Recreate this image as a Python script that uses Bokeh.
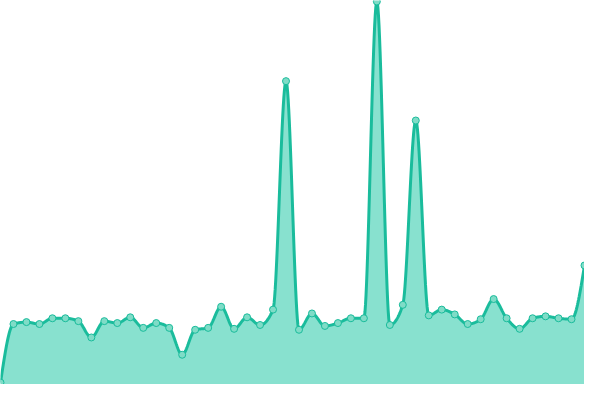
import numpy as np
from bokeh.plotting import figure
from bokeh.embed import file_html
from bokeh.resources import INLINE
from bokeh.models import Range1d

# data
idx = list(range(46))
values = [2, 63, 65, 63, 69, 69, 66, 49, 66, 64,
          70, 59, 64, 59, 31, 57, 59, 81, 58, 70,
          62, 78, 316, 57, 74, 61, 64, 69, 69, 399,
          62, 83, 275, 72, 78, 73, 63, 68, 89, 69,
          58, 69, 71, 69, 68, 124]

LINE = "#1abc9c"
FILL = "#88e1cf"


def monotone_x(xs, ys, n=24):
    xs = np.asarray(xs, float)
    ys = np.asarray(ys, float)
    h = np.diff(xs)
    s = np.diff(ys) / h
    m = np.zeros(len(xs))
    for i in range(1, len(xs) - 1):
        s0, s1 = s[i - 1], s[i]
        p = (s0 * h[i] + s1 * h[i - 1]) / (h[i - 1] + h[i])
        m[i] = (np.sign(s0) + np.sign(s1)) * min(abs(s0), abs(s1), 0.5 * abs(p))
    m[0] = (3 * s[0] - m[1]) / 2
    m[-1] = (3 * s[-1] - m[-2]) / 2
    outx, outy = [], []
    for i in range(len(xs) - 1):
        t = np.linspace(0, 1, n, endpoint=False)
        hh = h[i]
        h00 = 2 * t**3 - 3 * t**2 + 1
        h10 = t**3 - 2 * t**2 + t
        h01 = -2 * t**3 + 3 * t**2
        h11 = t**3 - t**2
        outx.extend(xs[i] + t * hh)
        outy.extend(h00 * ys[i] + h10 * hh * m[i] + h01 * ys[i + 1] + h11 * hh * m[i + 1])
    outx.append(xs[-1])
    outy.append(ys[-1])
    return np.array(outx), np.array(outy)


cx, cy = monotone_x(idx, values)

p = figure(width=584, height=384, output_backend="svg", toolbar_location=None,
           x_range=Range1d(0, 45), y_range=Range1d(0, 400), min_border=0)
p.axis.visible = False
p.grid.visible = False
p.outline_line_color = None
p.background_fill_color = "white"
p.border_fill_color = "white"

p.varea(x=cx, y1=0, y2=cy, fill_color=FILL, fill_alpha=1.0)
p.line(cx, cy, line_color=LINE, line_width=3)
p.scatter(idx, values, size=7, fill_color="#7fdcc7", line_color=LINE, line_width=1)

open("out.html", "w").write(file_html(p, INLINE))
